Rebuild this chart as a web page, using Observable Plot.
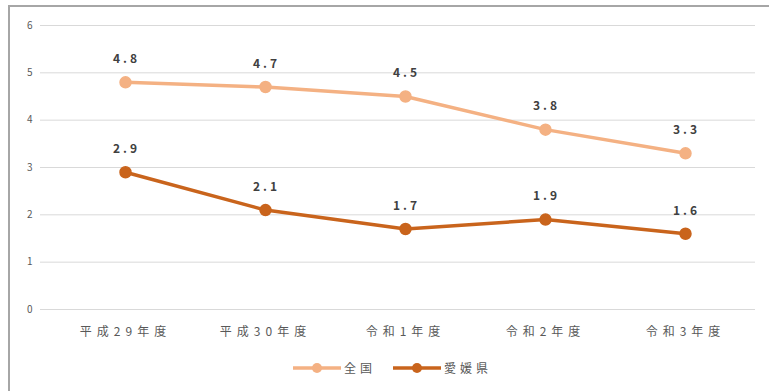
<!DOCTYPE html>
<html>
<head>
<meta charset="utf-8">
<script src="https://cdn.jsdelivr.net/npm/d3@7"></script>
<script src="https://cdn.jsdelivr.net/npm/@observablehq/plot@0.6"></script>
<style>
  html, body { margin: 0; padding: 0; background: #fff; width: 769px; height: 391px; overflow: hidden; }
  body { font-family: "Noto Sans CJK JP", "Noto Sans", sans-serif; position: relative; }
  #frame { position: absolute; left: 8px; top: 5px; right: 0; bottom: 0;
           border-top: 2px solid #a6a6a6; border-left: 2px solid #a6a6a6; }
  #chart { position: absolute; left: 0; top: 0; }
  #legend { position: absolute; left: 293px; top: 359px; display: flex;
            gap: 17px; font-size: 12px; color: #595959; letter-spacing: 4px; }
  .item { display: flex; align-items: center; gap: 3px; }
  .axis-x text { letter-spacing: 5px; }
  .value-label text { letter-spacing: 3px; }
</style>
</head>
<body>
<div id="frame"></div>
<div id="chart"></div>
<div id="legend"></div>
<script>
const years = ["平成29年度", "平成30年度", "令和1年度", "令和2年度", "令和3年度"];
const seriesNames = ["全国", "愛媛県"];
const national = [4.8, 4.7, 4.5, 3.8, 3.3];
const prefecture = [2.9, 2.1, 1.7, 1.9, 1.6];
const colors = ["#f4b183", "#c9641c"];
const yTicks = [0, 1, 2, 3, 4, 5, 6];

const rows = [
  ...years.map((y, i) => ({year: y, value: national[i], series: seriesNames[0]})),
  ...years.map((y, i) => ({year: y, value: prefecture[i], series: seriesNames[1]}))
];

const chart = Plot.plot({
  width: 769,
  height: 352,
  marginLeft: 40,
  marginRight: 14,
  marginTop: 25,
  marginBottom: 43,
  style: {fontFamily: "'Noto Sans CJK JP', sans-serif", fontSize: "10px", color: "#595959", background: "transparent"},
  x: {type: "point", domain: years, range: [55, 755], padding: 0.5, label: null},
  y: {domain: [0, 6], ticks: yTicks, label: null},
  color: {domain: seriesNames, range: colors},
  marks: [
    Plot.ruleY(yTicks, {stroke: "#d9d9d9", strokeWidth: 1}),
    Plot.axisY({ticks: yTicks, tickFormat: "d", tickSize: 0, tickPadding: 8, label: null, fontSize: 10, fill: "#595959"}),
    Plot.axisX({tickSize: 0, tickPadding: 18, label: null, fontSize: 12, fill: "#595959", className: "axis-x"}),
    Plot.line(rows, {x: "year", y: "value", z: "series", stroke: "series", strokeWidth: 3.5}),
    Plot.dot(rows, {x: "year", y: "value", fill: "series", r: 5.5, stroke: "series"}),
    Plot.text(rows, {x: "year", y: "value", text: d => d.value.toFixed(1), dy: -23, dx: 1,
      fill: "#404040", fontSize: 12, fontWeight: "bold", className: "value-label"})
  ]
});
document.getElementById("chart").appendChild(chart);

const legend = document.getElementById("legend");
seriesNames.forEach((name, i) => {
  const item = document.createElement("div");
  item.className = "item";
  item.innerHTML =
    `<svg width="48" height="12"><line x1="0" y1="6" x2="48" y2="6" stroke="${colors[i]}" stroke-width="3.5"/>` +
    `<circle cx="24" cy="6" r="5" fill="${colors[i]}"/></svg><span>${name}</span>`;
  legend.appendChild(item);
});
</script>
</body>
</html>
